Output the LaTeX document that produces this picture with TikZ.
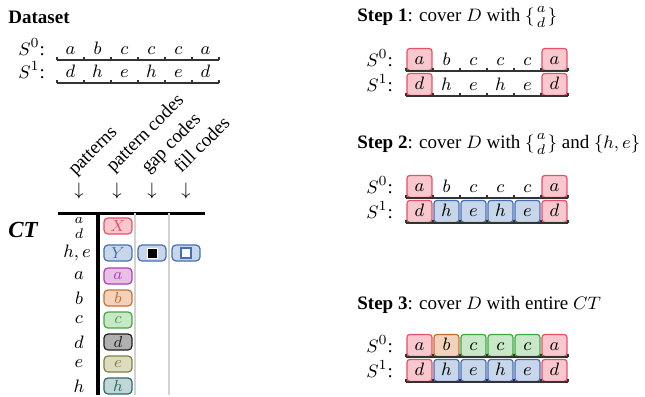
\documentclass[tikz,border=0pt]{standalone}
\usepackage{amsmath}
\usepackage{fontspec}
\setmainfont{Liberation Serif}

\definecolor{cRedF}{RGB}{248,200,206}
\definecolor{cRedD}{RGB}{232,80,100}
\definecolor{cBlueF}{RGB}{200,214,234}
\definecolor{cBlueD}{RGB}{70,110,180}
\definecolor{cPurpF}{RGB}{232,192,230}
\definecolor{cPurpD}{RGB}{176,60,176}
\definecolor{cOrgF}{RGB}{242,210,186}
\definecolor{cOrgD}{RGB}{200,110,50}
\definecolor{cGrnF}{RGB}{200,232,200}
\definecolor{cGrnD}{RGB}{64,168,64}
\definecolor{cGryF}{RGB}{176,176,176}
\definecolor{cGryD}{RGB}{32,32,32}
\definecolor{cOlvF}{RGB}{220,220,192}
\definecolor{cOlvD}{RGB}{128,128,64}
\definecolor{cTealF}{RGB}{192,216,216}
\definecolor{cTealD}{RGB}{48,104,104}

\tikzset{
  txt/.style={anchor=base west, inner sep=0pt},
  seqline/.style={line width=1pt, color=black!80},
  pNone/.style={minimum width=12.5pt, minimum height=11pt, inner sep=0pt, text height=1.5ex, text depth=0.25ex},
  pBox/.style={pNone, draw, rounded corners=1.5pt, line width=0.6pt},
  pRed/.style={pBox, draw=cRedD, fill=cRedF},
  pBlue/.style={pBox, draw=cBlueD, fill=cBlueF},
  pOrg/.style={pBox, draw=cOrgD, fill=cOrgF},
  pGrn/.style={pBox, draw=cGrnD, fill=cGrnF},
  ctBox/.style={draw, rounded corners=2pt, minimum width=14pt, minimum height=8pt, inner sep=0pt, line width=0.6pt, font=\footnotesize},
  ctRed/.style={ctBox, draw=cRedD, fill=cRedF, text=cRedD},
  ctBlue/.style={ctBox, draw=cBlueD, fill=cBlueF, text=cBlueD},
  ctPurp/.style={ctBox, draw=cPurpD, fill=cPurpF, text=cPurpD},
  ctOrg/.style={ctBox, draw=cOrgD, fill=cOrgF, text=cOrgD},
  ctGrn/.style={ctBox, draw=cGrnD, fill=cGrnF, text=cGrnD},
  ctGry/.style={ctBox, draw=cGryD, fill=cGryF, text=cGryD},
  ctOlv/.style={ctBox, draw=cOlvD, fill=cOlvF, text=cOlvD},
  ctTeal/.style={ctBox, draw=cTealD, fill=cTealF, text=cTealD},
}

% one sequence: name, left x, line y, cells letter/style
\newcommand\seqrow[4]{%
  \foreach \lt/\st [count=\i] in {#4} {
    \node[\st, anchor=south] (#1\i) at ({#2+27*\i-13.5},#3) {$\lt$};
  }
  \draw[seqline] (#2,#3) -- ++(162,0);
  \foreach \i in {0,...,6} \draw[seqline] ({#2+27*\i},#3) -- ++(0,-3);
}

\begin{document}
\fontsize{9.5}{11.5}\selectfont
\begin{tikzpicture}[x=0.5pt, y=-0.5pt]
		\useasboundingbox (0,0) rectangle (645,397);
		
		%%%%% DATASET %%%%%
		
		\node[txt, font=\bfseries] (dataset) at (8,23) {Dataset};
		\node[txt] (dsr0) at (18,55) {$S^0$:};
		\node[txt] (dsr1) at (18,78) {$S^1$:};
		\seqrow{dsa}{57}{60}{a/pNone, b/pNone, c/pNone, c/pNone, c/pNone, a/pNone}
		\seqrow{dsb}{57}{83}{d/pNone, h/pNone, e/pNone, h/pNone, e/pNone, d/pNone}
		
		%%%%% CODE TABLE %%%%%
		
		\node[txt, rotate=45] (hpat) at (75,176) {patterns};
		\node[txt, rotate=45] (hpcode) at (113,173) {pattern codes};
		\node[txt, rotate=45] (hgap) at (148,174) {gap codes};
		\node[txt, rotate=45] (hfill) at (181,174) {fill codes};
		
		\node (apat) at (79,191) {$\downarrow$};
		\node (apcode) at (117,191) {$\downarrow$};
		\node (agap) at (152,191) {$\downarrow$};
		\node (afill) at (186,191) {$\downarrow$};
		
		\draw[line width=1.5pt] (58,213) -- (205,213);
		\draw[line width=2pt] (98,213) -- (98,395);
		\draw[gray!35, line width=0.8pt] (135,213) -- (135,395);
		\draw[gray!35, line width=0.8pt] (169,213) -- (169,395);
		
		\node[txt, font=\bfseries\itshape\fontsize{11.5}{13}\selectfont] (ct) at (8,237) {CT};
		
		\node (lad) at (79,228) {$\genfrac{}{}{0pt}{1}{a}{d}$};
		\node[ctRed] (cx) at (118,226) {$X$};
		
		\node (lhe) at (77,253) {$h,e$};
		\node[ctBlue] (cy) at (118,253) {$Y$};
		\node[ctBlue] (cgap) at (152,253) {};
		\node[fill=black, draw=white, line width=0.4pt, minimum size=5pt, inner sep=0pt] (cgapsq) at (cgap.center) {};
		\node[ctBlue] (cfill) at (186,253) {};
		\node[fill=white, draw=cBlueD, line width=0.7pt, minimum size=5pt, inner sep=0pt] (cfillsq) at (cfill.center) {};
		
		\foreach \lt/\st/\yy in {a/ctPurp/276, b/ctOrg/298, c/ctGrn/320, d/ctGry/342, e/ctOlv/364, h/ctTeal/386} {
			\node (l\lt) at (79,\yy) {$\lt$};
			\node[\st] (c\lt) at (118,\yy) {$\lt$};
		}
		
		%%%%% STEP 1 %%%%%
		
		\node[txt] (step1) at (357,21) {\textbf{Step 1}: cover $D$ with $\{\genfrac{}{}{0pt}{1}{a}{d}\}$};
		\node[txt] (st1r0) at (366,66) {$S^0$:};
		\node[txt] (st1r1) at (366,91) {$S^1$:};
		\seqrow{sta}{406}{71}{a/pRed, b/pNone, c/pNone, c/pNone, c/pNone, a/pRed}
		\seqrow{stb}{406}{96}{d/pRed, h/pNone, e/pNone, h/pNone, e/pNone, d/pRed}
		
		%%%%% STEP 2 %%%%%
		
		\node[txt] (step2) at (357,148) {\textbf{Step 2}: cover $D$ with $\{\genfrac{}{}{0pt}{1}{a}{d}\}$ and $\{h,e\}$};
		\node[txt] (st2r0) at (366,193) {$S^0$:};
		\node[txt] (st2r1) at (366,218) {$S^1$:};
		\seqrow{stc}{406}{198}{a/pRed, b/pNone, c/pNone, c/pNone, c/pNone, a/pRed}
		\seqrow{std}{406}{223}{d/pRed, h/pBlue, e/pBlue, h/pBlue, e/pBlue, d/pRed}
		
		%%%%% STEP 3 %%%%%
		
		\node[txt] (step3) at (357,309) {\textbf{Step 3}: cover $D$ with entire $CT$};
		\node[txt] (st3r0) at (366,352) {$S^0$:};
		\node[txt] (st3r1) at (366,377) {$S^1$:};
		\seqrow{ste}{406}{357}{a/pRed, b/pOrg, c/pGrn, c/pGrn, c/pGrn, a/pRed}
		\seqrow{stf}{406}{382}{d/pRed, h/pBlue, e/pBlue, h/pBlue, e/pBlue, d/pRed}
		
	\end{tikzpicture}
\end{document}
